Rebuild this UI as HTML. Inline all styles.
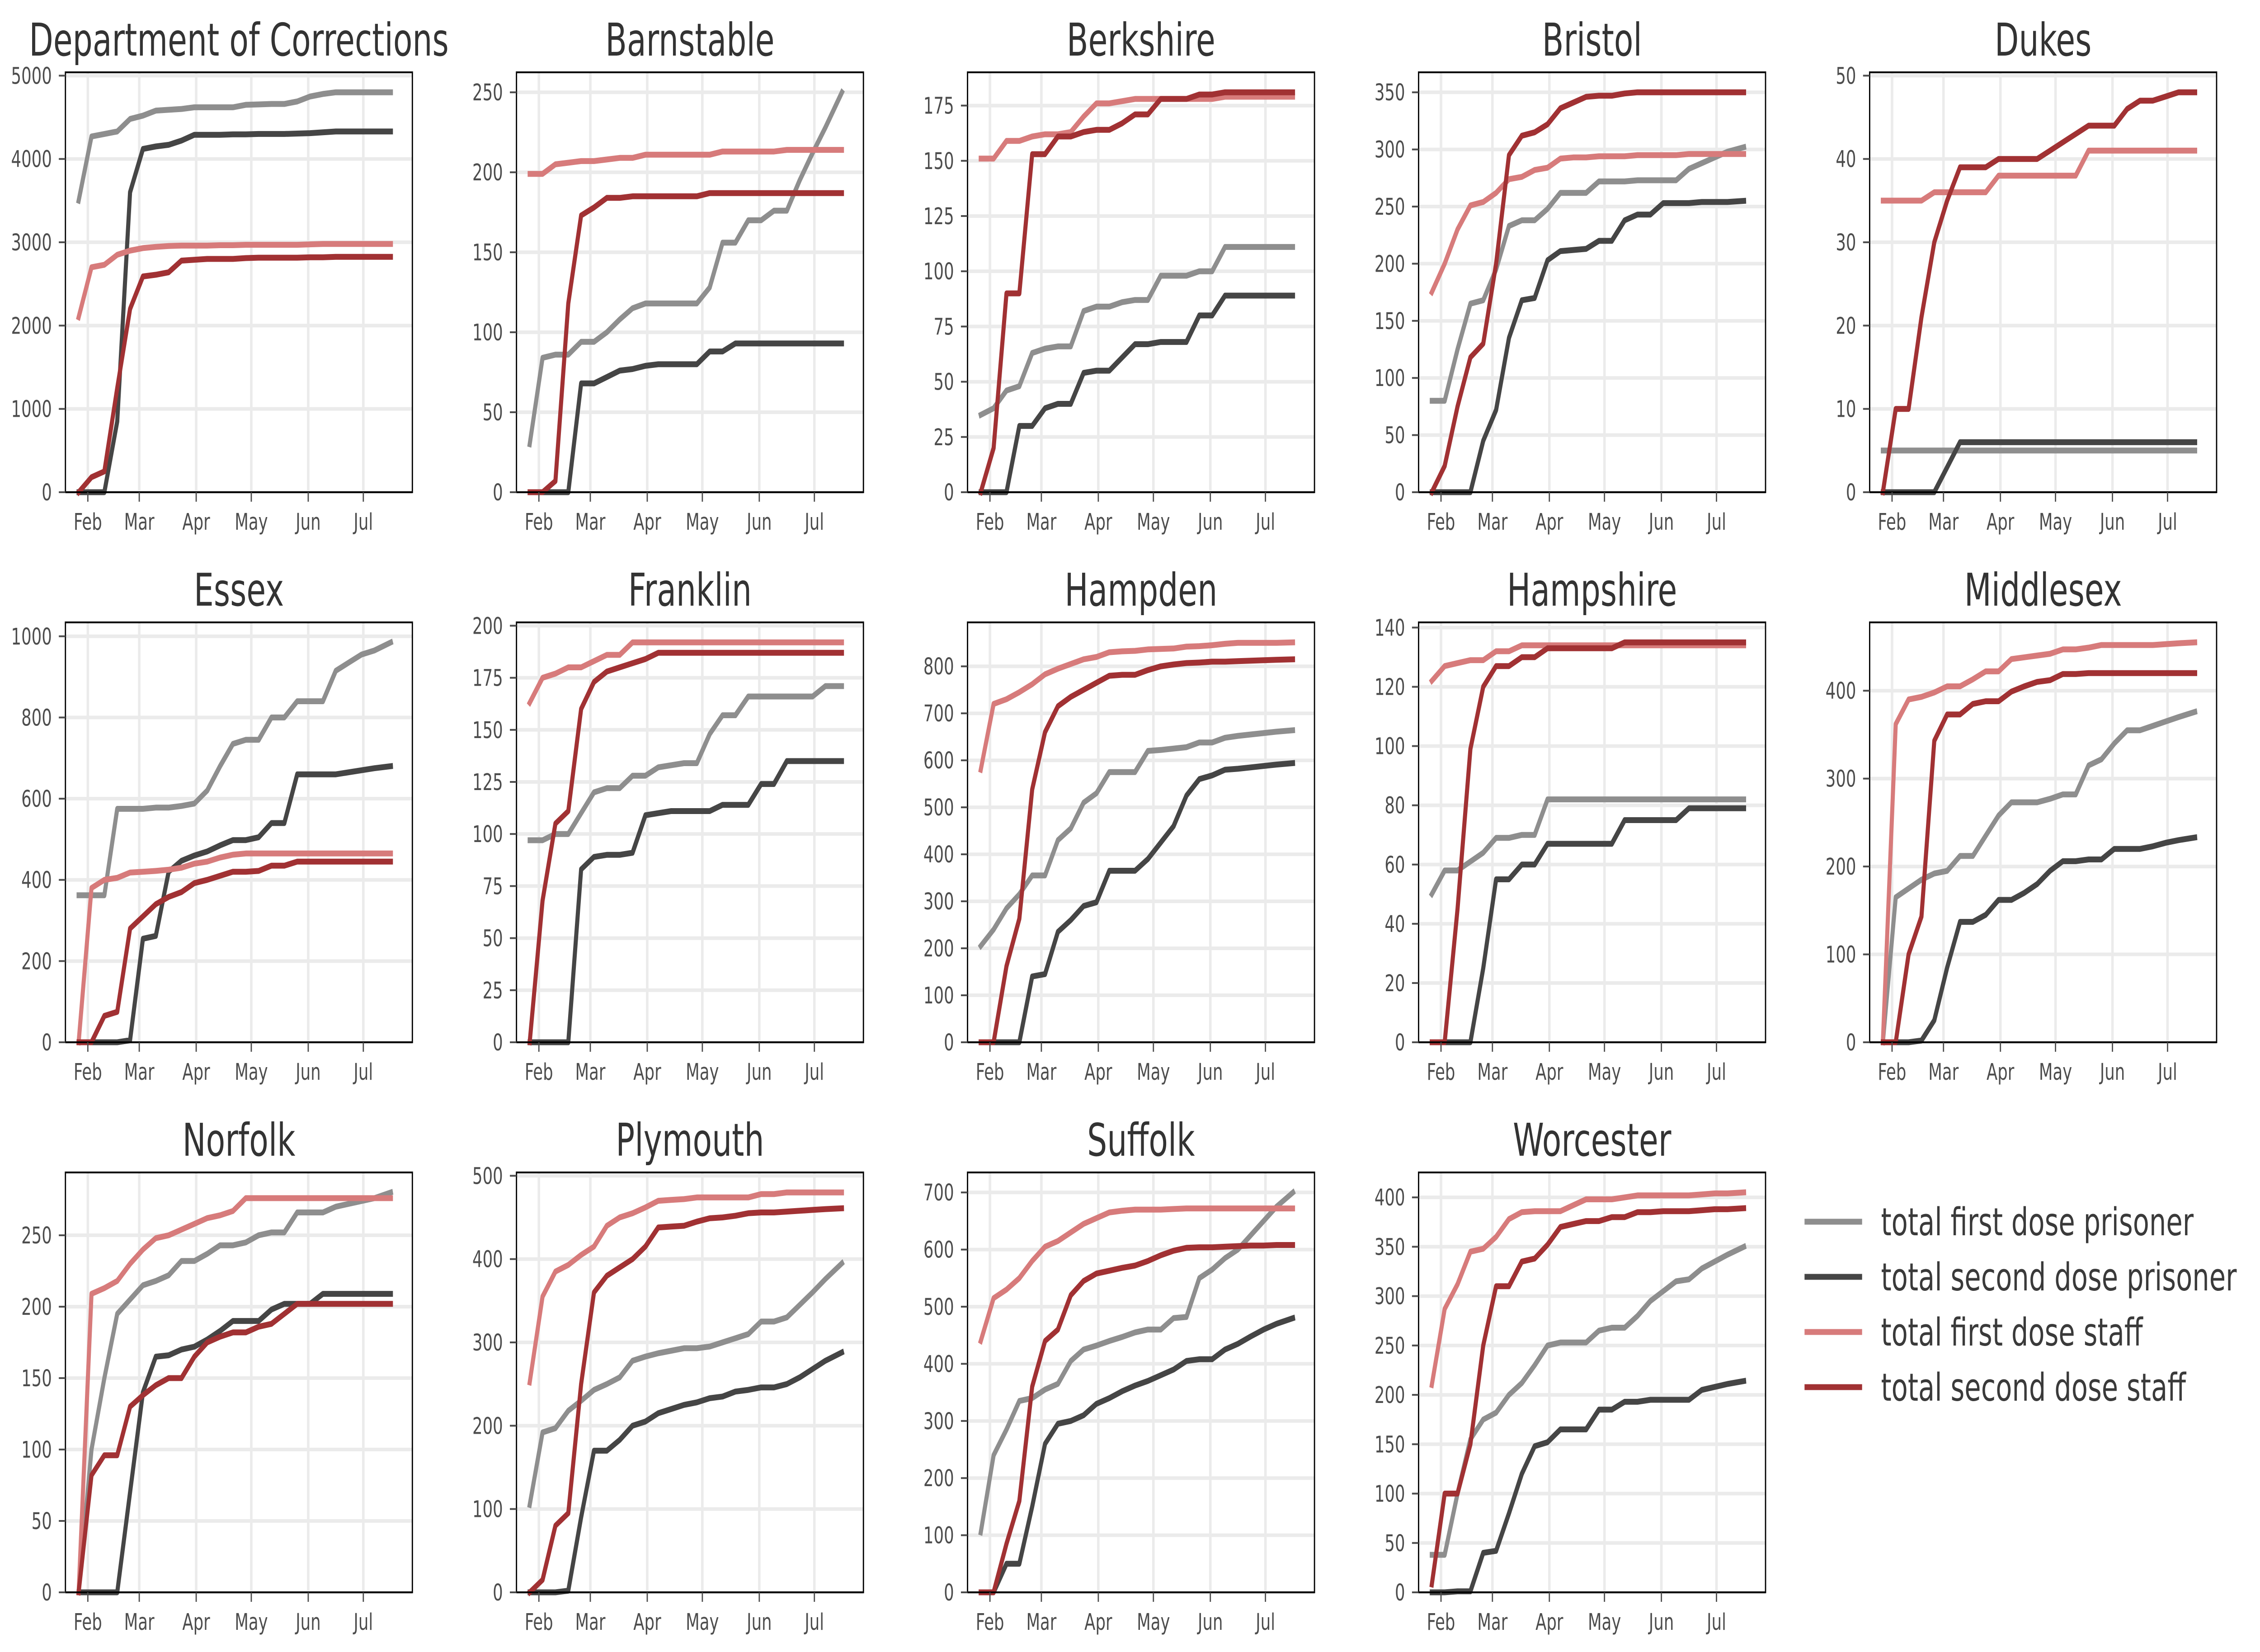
<!DOCTYPE html>
<html>
<head>
<meta charset="utf-8">
<style>
html,body{margin:0;padding:0;background:#fff;width:100%;height:100%;overflow:hidden;}
svg{display:block;width:100vw;height:100vh;}
text{font-family:"DejaVu Sans","Liberation Sans",sans-serif;}
</style>
</head>
<body>
<svg id="chart" xmlns="http://www.w3.org/2000/svg" viewBox="0 0 7185 3655" preserveAspectRatio="none">
<rect x="0" y="0" width="7185" height="3655" fill="#ffffff"/>
</svg>
<script>
// ---- data (day of year 2021, Jan 1 = 0) ----
const dates = [26,33,40,47,54,61,68,75,82,89,96,103,110,117,124,131,138,145,152,159,166,173,180,187,196];
const panelNames = ["Department of Corrections","Barnstable","Berkshire","Bristol","Dukes","Essex","Franklin","Hampden","Hampshire","Middlesex","Norfolk","Plymouth","Suffolk","Worcester"];
const seriesLabels = ["total first dose prisoner","total second dose prisoner","total first dose staff","total second dose staff"];
const monthTickDays = [31,59,90,120,151,181];
const monthTickLabels = ["Feb","Mar","Apr","May","Jun","Jul"];

const firstDosePrisoner = [
 [3500,4270,4300,4330,4480,4520,4580,4590,4600,4620,4620,4620,4620,4650,4655,4660,4660,4690,4750,4780,4800,4800,4800,4800,4800],
 [30,84,86,86,94,94,100,108,115,118,118,118,118,118,128,156,156,170,170,176,176,195,212,228,250],
 [35,38,46,48,63,65,66,66,82,84,84,86,87,87,98,98,98,100,100,111,111,111,111,111,111],
 [80,80,125,165,168,195,233,238,238,248,262,262,262,272,272,272,273,273,273,273,283,288,293,298,302],
 [5,5,5,5,5,5,5,5,5,5,5,5,5,5,5,5,5,5,5,5,5,5,5,5,5],
 [362,362,362,575,575,575,578,578,582,588,620,680,735,745,745,800,800,840,840,840,915,935,955,965,985],
 [97,97,100,100,110,120,122,122,128,128,132,133,134,134,148,157,157,166,166,166,166,166,166,171,171],
 [205,240,285,315,355,355,430,455,510,530,575,575,575,620,622,625,628,638,638,648,652,655,658,661,664],
 [50,58,58,61,64,69,69,70,70,82,82,82,82,82,82,82,82,82,82,82,82,82,82,82,82],
 [0,165,175,185,192,195,212,212,235,258,273,273,273,277,282,282,315,322,340,355,355,360,365,370,376],
 [0,100,150,195,205,215,218,222,232,232,237,243,243,245,250,252,252,266,266,266,270,272,274,276,280],
 [105,192,197,218,230,243,250,258,278,283,287,290,293,293,295,300,305,310,325,325,330,345,360,376,395],
 [105,240,285,335,340,355,365,405,425,432,440,447,455,460,460,480,482,550,565,585,600,625,650,675,700],
 [38,38,100,155,175,182,200,212,230,250,253,253,253,265,268,268,280,295,305,315,317,328,335,342,350]
];
const secondDosePrisoner = [
 [0,0,0,850,3600,4120,4150,4170,4220,4290,4290,4290,4295,4295,4300,4300,4300,4305,4310,4320,4330,4330,4330,4330,4330],
 [0,0,0,0,68,68,72,76,77,79,80,80,80,80,88,88,93,93,93,93,93,93,93,93,93],
 [0,0,0,30,30,38,40,40,54,55,55,61,67,67,68,68,68,80,80,89,89,89,89,89,89],
 [0,0,0,0,45,72,135,168,170,203,211,212,213,220,220,238,243,243,253,253,253,254,254,254,255],
 [0,0,0,0,0,3,6,6,6,6,6,6,6,6,6,6,6,6,6,6,6,6,6,6,6],
 [0,0,0,0,5,255,262,420,447,460,470,485,498,498,505,540,540,660,660,660,660,665,670,675,680],
 [0,0,0,0,83,89,90,90,91,109,110,111,111,111,111,114,114,114,124,124,135,135,135,135,135],
 [0,0,0,0,140,145,235,260,290,298,365,365,365,390,425,460,525,560,568,580,582,585,588,591,594],
 [0,0,0,0,25,55,55,60,60,67,67,67,67,67,67,75,75,75,75,75,79,79,79,79,79],
 [0,0,0,2,25,85,137,137,145,162,162,170,180,195,206,206,208,208,220,220,220,223,227,230,233],
 [0,0,0,0,70,140,165,166,170,172,177,183,190,190,190,198,202,202,202,209,209,209,209,209,209],
 [0,0,0,2,90,170,170,183,200,205,215,220,225,228,233,235,241,243,246,246,250,258,268,278,288],
 [0,0,50,50,150,260,295,300,310,330,340,352,362,370,380,390,405,408,408,425,435,448,460,470,480],
 [0,0,1,1,40,42,80,120,148,152,165,165,165,185,185,193,193,195,195,195,195,205,208,211,214]
];
const firstDoseStaff = [
 [2100,2700,2730,2850,2900,2930,2945,2955,2960,2960,2960,2965,2965,2970,2970,2970,2970,2970,2975,2980,2980,2980,2980,2980,2980],
 [199,199,205,206,207,207,208,209,209,211,211,211,211,211,211,213,213,213,213,213,214,214,214,214,214],
 [151,151,159,159,161,162,162,163,170,176,176,177,178,178,178,178,178,178,178,179,179,179,179,179,179],
 [175,200,230,251,254,262,274,276,282,284,292,293,293,294,294,294,295,295,295,295,296,296,296,296,296],
 [35,35,35,35,36,36,36,36,36,38,38,38,38,38,38,38,41,41,41,41,41,41,41,41,41],
 [0,380,400,405,418,420,422,425,430,440,445,455,462,465,465,465,465,465,465,465,465,465,465,465,465],
 [163,175,177,180,180,183,186,186,192,192,192,192,192,192,192,192,192,192,192,192,192,192,192,192,192],
 [580,720,730,745,762,783,795,805,815,820,830,832,833,836,837,838,842,843,845,848,850,850,850,850,851],
 [122,127,128,129,129,132,132,134,134,134,134,134,134,134,134,134,134,134,134,134,134,134,134,134,134],
 [0,362,390,393,398,405,405,413,422,422,436,438,440,442,447,447,449,452,452,452,452,452,453,454,455],
 [0,209,213,218,230,240,248,250,254,258,262,264,267,276,276,276,276,276,276,276,276,276,276,276,276],
 [252,355,385,393,405,415,440,450,455,462,470,471,472,474,474,474,474,474,478,478,480,480,480,480,480],
 [440,515,530,550,580,605,615,630,645,655,665,668,670,670,670,671,672,672,672,672,672,672,672,672,672],
 [210,287,312,345,348,360,378,385,386,386,386,392,398,398,398,400,402,402,402,402,402,403,404,404,405]
];
const secondDoseStaff = [
 [0,180,250,1250,2200,2590,2610,2640,2780,2790,2800,2800,2800,2810,2815,2815,2815,2815,2820,2820,2825,2825,2825,2825,2825],
 [0,0,7,118,173,178,184,184,185,185,185,185,185,185,187,187,187,187,187,187,187,187,187,187,187],
 [0,20,90,90,153,153,161,161,163,164,164,167,171,171,178,178,178,180,180,181,181,181,181,181,181],
 [0,23,75,118,130,200,295,312,315,322,336,341,346,347,347,349,350,350,350,350,350,350,350,350,350],
 [0,10,10,21,30,35,39,39,39,40,40,40,40,41,42,43,44,44,44,46,47,47,47.5,48,48],
 [0,0,65,75,280,310,340,358,370,392,400,410,420,420,422,435,435,445,445,445,445,445,445,445,445],
 [0,68,105,111,160,173,178,180,182,184,187,187,187,187,187,187,187,187,187,187,187,187,187,187,187],
 [0,0,162,263,538,660,715,735,750,765,780,782,782,792,800,804,807,808,810,810,811,812,813,814,815],
 [0,0,45,99,120,127,127,130,130,133,133,133,133,133,133,135,135,135,135,135,135,135,135,135,135],
 [0,0,100,143,343,373,373,385,388,388,399,405,410,412,419,419,420,420,420,420,420,420,420,420,420],
 [0,82,96,96,130,138,145,150,150,165,175,179,182,182,186,188,195,202,202,202,202,202,202,202,202],
 [0,15,80,95,250,360,380,390,400,415,438,439,440,445,449,450,452,455,456,456,457,458,459,460,461],
 [0,0,85,160,360,440,460,520,545,558,563,568,572,580,590,598,603,604,604,605,606,607,607,608,608],
 [8,100,100,150,250,310,310,335,338,352,370,373,376,376,380,380,385,385,386,386,386,387,388,388,389]
];

// ---- style / layout ----
const NS = "http://www.w3.org/2000/svg";
const svg = document.getElementById("chart");
const seriesList = [firstDosePrisoner, secondDosePrisoner, firstDoseStaff, secondDoseStaff];
const seriesColors = ["#8e8e8e", "#454545", "#d77b7b", "#a13133"];
const seriesNames = ["first-dose-prisoner-line","second-dose-prisoner-line","first-dose-staff-line","second-dose-staff-line"];
const PW = 1103, PH = 929;
const X0 = 18.8, X1 = 207.7;

function el(tag, attrs, parent) {
  const e = document.createElementNS(NS, tag);
  for (const k in attrs) e.setAttribute(k, attrs[k]);
  (parent || svg).appendChild(e);
  return e;
}
function slug(s){ return s.toLowerCase().replace(/[^a-z0-9]+/g,"-"); }
function niceStep(maxv) {
  const raw = maxv / 9;
  const p = Math.pow(10, Math.floor(Math.log10(raw)));
  for (const m of [1, 2, 2.5, 5, 10]) { if (m * p >= raw) return m * p; }
  return 10 * p;
}

panelNames.forEach(function(name, i) {
  const col = i % 5, row = Math.floor(i / 5);
  const left = 208 + col * 1434, top = 160 + row * 1217;
  let maxv = 0;
  seriesList.forEach(function(s){ s[i].forEach(function(v){ if (v > maxv) maxv = v; }); });
  const ymax = maxv * 1.05;
  const xs = function(d){ return left + (d - X0) / (X1 - X0) * PW; };
  const ys = function(v){ return top + PH - v / ymax * PH; };

  const g = el("g", {});
  
  

  monthTickDays.forEach(function(d, k){
    const l = el("line", {x1: xs(d), x2: xs(d), y1: top, y2: top + PH, stroke: "#ebebeb", "stroke-width": 8}, g);
    
    
  });
  const step = niceStep(ymax);
  const yticks = [];
  for (let v = 0; v <= ymax + 1e-9; v += step) yticks.push(Math.round(v * 1000) / 1000);
  yticks.forEach(function(v){
    const l = el("line", {x1: left, x2: left + PW, y1: ys(v), y2: ys(v), stroke: "#ebebeb", "stroke-width": 8}, g);
    
    
  });

  seriesList.forEach(function(s, k){
    const pts = s[i].map(function(v, j){ return xs(dates[j]).toFixed(1) + "," + ys(v).toFixed(1); }).join(" ");
    const pl = el("polyline", {points: pts, fill: "none", stroke: seriesColors[k], "stroke-width": 13, "stroke-linejoin": "round", "stroke-linecap": "square"}, g);
    
    
  });

  const fr = el("rect", {x: left, y: top, width: PW, height: PH, fill: "none", stroke: "#000", "stroke-width": 4}, g);
  
  

  monthTickDays.forEach(function(d, k){
    const x = xs(d);
    const t = el("line", {x1: x, x2: x, y1: top + PH, y2: top + PH + 21, stroke: "#4d4d4d", "stroke-width": 4}, g);
    
    
    const tx = el("text", {x: x, y: top + PH + 83, "font-size": 51, fill: "#4d4d4d", "text-anchor": "middle"}, g);
    tx.textContent = monthTickLabels[k];
    
    
  });
  yticks.forEach(function(v){
    const y = ys(v);
    const t = el("line", {x1: left - 21, x2: left, y1: y, y2: y, stroke: "#4d4d4d", "stroke-width": 4}, g);
    
    
    const tx = el("text", {x: left - 43, y: y + 18, "font-size": 51, fill: "#4d4d4d", "text-anchor": "end"}, g);
    tx.textContent = String(v);
    
    
  });

  const ti = el("text", {x: left + PW / 2, y: top - 37, "font-size": 100, fill: "#333333", "text-anchor": "middle"}, g);
  ti.textContent = name;
  
  
});

const lg = el("g", {});


const legendY = [2703, 2825, 2947, 3069];
seriesLabels.forEach(function(lab, k){
  const y = legendY[k];
  const ln = el("line", {x1: 5737, x2: 5920, y1: y, y2: y, stroke: seriesColors[k], "stroke-width": 13}, lg);
  
  
  const tx = el("text", {x: 5980, y: y + 30, "font-size": 85, fill: "#3a3a3a"}, lg);
  tx.textContent = lab;
  
  
});
</script>
</body>
</html>
